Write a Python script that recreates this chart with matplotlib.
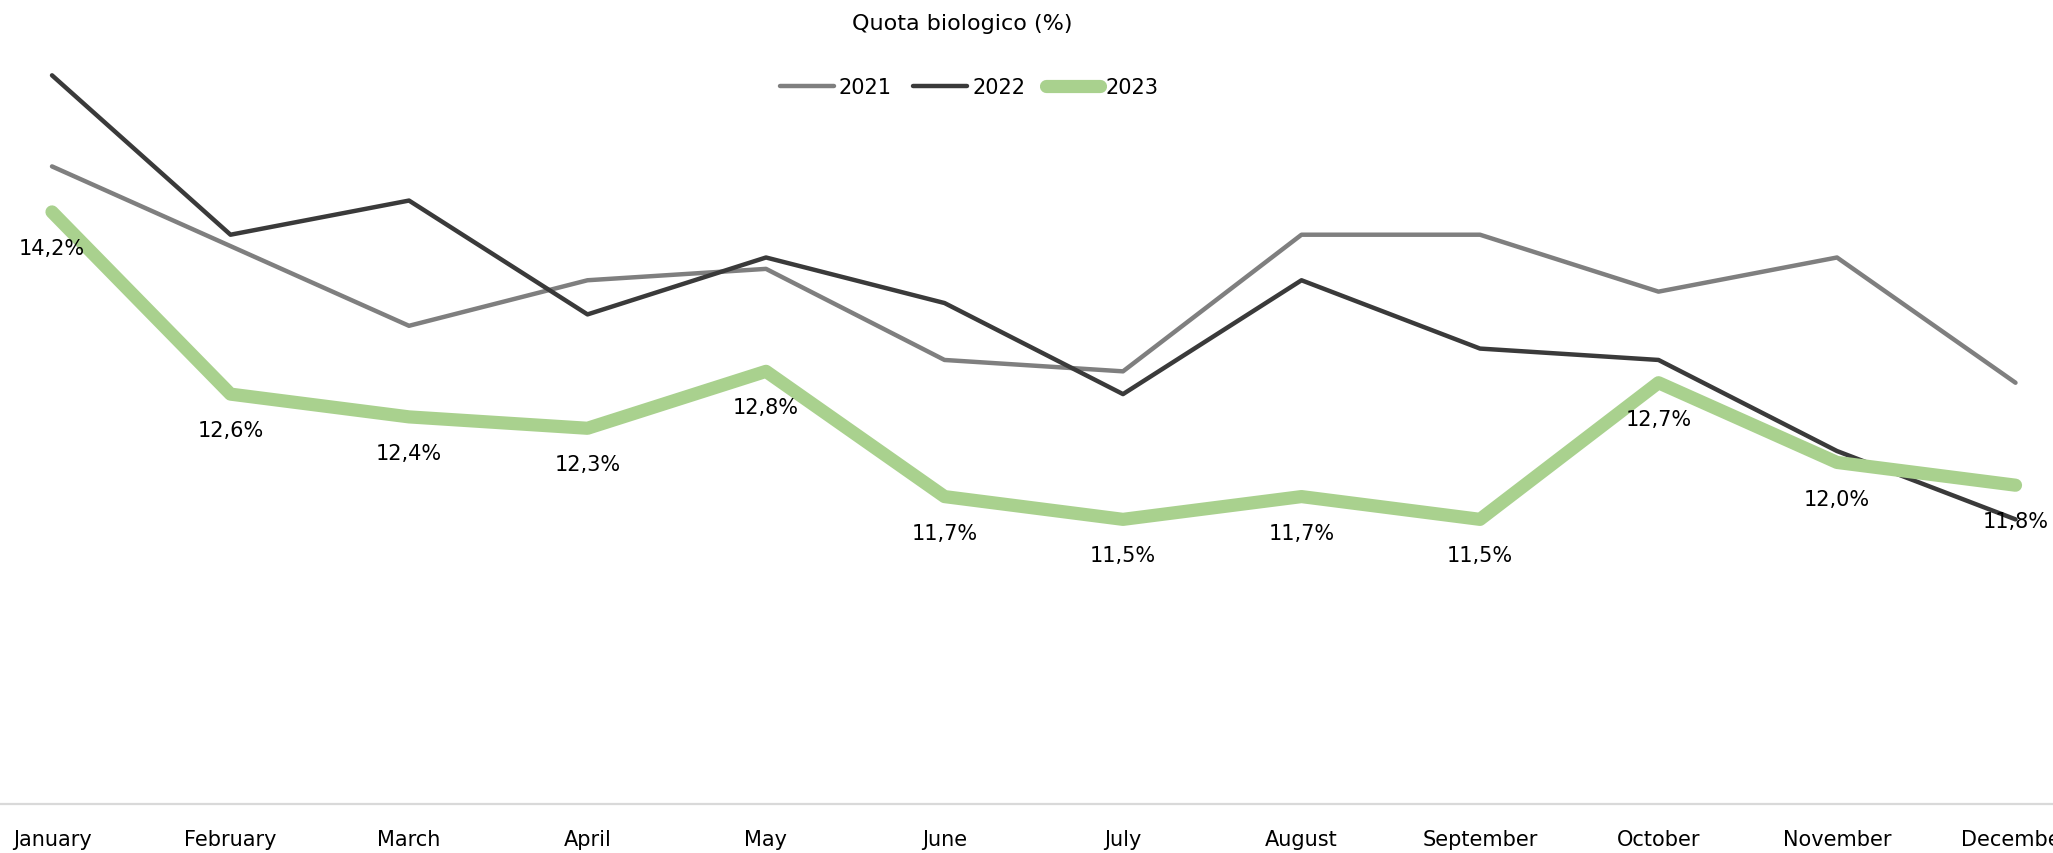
import numpy as np
import matplotlib
matplotlib.use('Agg')
import matplotlib.pyplot as plt

plt.rcParams['font.family'] = ['DejaVu Sans']

months = ['January', 'February', 'March', 'April', 'May', 'June', 'July',
          'August', 'September', 'October', 'November', 'December']
q2021 = [14.6, 13.9, 13.2, 13.6, 13.7, 12.9, 12.8, 14.0, 14.0, 13.5, 13.8, 12.7]
q2022 = [15.4, 14.0, 14.3, 13.3, 13.8, 13.4, 12.6, 13.6, 13.0, 12.9, 12.1, 11.5]
q2023 = [14.2, 12.6, 12.4, 12.3, 12.8, 11.7, 11.5, 11.7, 11.5, 12.7, 12.0, 11.8]

W, H = 2053, 854
fig = plt.figure(figsize=(W / 100, H / 100), dpi=100)
# plot area: bottom baseline at 805 px, top at 8 px
ax = fig.add_axes([0, (H - 805) / H, 1, (805 - 8) / H])

x = np.arange(len(months))
ax.plot(x, q2021, color='#7f7f7f', lw=3.2, solid_capstyle='round', label='2021')
ax.plot(x, q2022, color='#3a3a3a', lw=3.2, solid_capstyle='round', label='2022')
ax.plot(x, q2023, color='#a9d18e', lw=9.5, solid_capstyle='round', label='2023')

for xi, v in zip(x, q2023):
    ax.annotate(('%.1f%%' % v).replace('.', ','), (xi, v), xytext=(0, -26),
                textcoords='offset points', ha='center', va='center',
                fontsize=15, color='black')

# Jan at 52 px, spacing 178.5 px
step = 178.5
ax.set_xlim(-52 / step, (W - 52) / step)
ax.set_ylim(9, 16)
ax.set_xticks(x)
ax.set_xticklabels(months, fontsize=15)
ax.tick_params(axis='x', length=0, pad=18)
ax.set_yticks([])
for s in ['top', 'right', 'left']:
    ax.spines[s].set_visible(False)
ax.spines['bottom'].set_color('#d9d9d9')
ax.spines['bottom'].set_linewidth(1.6)

fig.text(962 / W, 1 - 24 / H, 'Quota biologico (%)', ha='center', va='center',
         fontsize=16)
fig.legend(loc='center', bbox_to_anchor=(969 / W, 1 - 88 / H), ncol=3,
           frameon=False, fontsize=15, handlelength=2.6, handletextpad=0.25,
           columnspacing=1.0)

fig.savefig('out.png', dpi=100)
